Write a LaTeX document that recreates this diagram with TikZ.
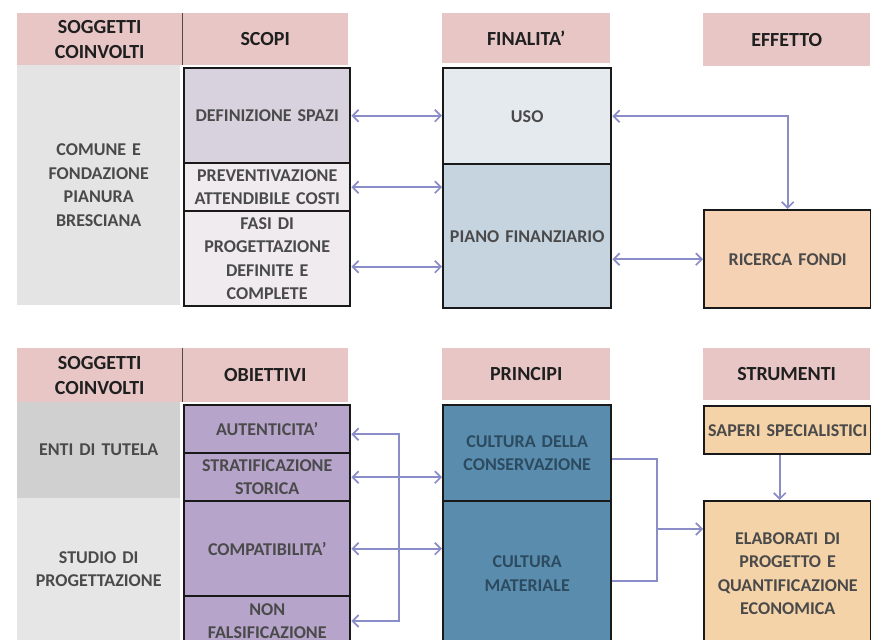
\documentclass[tikz,border=0pt]{standalone}
\usepackage{fontspec}
\setmainfont{Carlito}
\usetikzlibrary{arrows.meta,calc}
\definecolor{hdrc}{HTML}{E8C6C6}
\definecolor{txtc}{HTML}{4A4A4A}
\definecolor{arrc}{HTML}{8B8DC8}
\definecolor{grayA}{HTML}{E4E4E4}
\definecolor{grayB}{HTML}{D0D0D0}
\definecolor{grayC}{HTML}{E6E6E6}
\definecolor{defc}{HTML}{D8D2DF}
\definecolor{prevc}{HTML}{EFEBEF}
\definecolor{usoc}{HTML}{E5EAEE}
\definecolor{pianoc}{HTML}{C6D4E0}
\definecolor{peachA}{HTML}{F5D2B4}
\definecolor{peachB}{HTML}{F5D3A8}
\definecolor{lavc}{HTML}{B6A4CB}
\definecolor{tealc}{HTML}{5A8DAD}
\definecolor{tealtxt}{HTML}{2C4A60}
\begin{document}
\begin{tikzpicture}[x=1pt,y=-1pt,
  base/.style={anchor=north west, inner sep=0pt, align=center, font=\bfseries\fontsize{18}{23.5}\selectfont},
  hdr/.style={base, fill=hdrc, text=black!88, font=\bfseries\fontsize{20}{25}\selectfont},
  gry/.style={base, text=txtc},
  bx/.style={base, draw=black!90, line width=2.4pt, text=txtc},
  arr/.style={draw=arrc, line width=1.7pt, {Straight Barb[length=6pt,width=12pt]}-{Straight Barb[length=6pt,width=12pt]}},
  ln/.style={draw=arrc, line width=1.7pt},
  onearr/.style={draw=arrc, line width=1.7pt, -{Straight Barb[length=6pt,width=12pt]}},
  sep/.style={draw=black!70, line width=1pt}]
\useasboundingbox (0,0) rectangle (871,640);
\fill[white] (0,0) rectangle (871,640);
% ---------- top section ----------
\node[hdr, minimum width=165pt, minimum height=52pt, text width=160pt] (h1) at (17,13) {SOGGETTI\\COINVOLTI};
\node[hdr, minimum width=166pt, minimum height=52pt, text width=160pt] (h2) at (182,13) {SCOPI};
\node[hdr, minimum width=168pt, minimum height=50pt, text width=160pt] (h3) at (442,13) {FINALITA'};
\node[hdr, minimum width=167pt, minimum height=53pt, text width=160pt] (h4) at (703,13) {EFFETTO};
\draw[sep] (h1.north east) -- (h1.south east);
\node[gry, fill=grayA, minimum width=163pt, minimum height=240pt, text width=158pt] (g1) at (17,65) {COMUNE E\\FONDAZIONE\\PIANURA\\BRESCIANA};
\node[bx, fill=defc, minimum width=166pt, minimum height=95pt, text width=164pt] (def) at (183,67) {DEFINIZIONE SPAZI};
\node[bx, fill=prevc, minimum width=166pt, minimum height=48pt, text width=166pt] (prev) at (183,162) {PREVENTIVAZIONE\\ATTENDIBILE COSTI};
\node[bx, fill=prevc, minimum width=166pt, minimum height=95pt, text width=164pt] (fasi) at (183,210) {FASI DI\\PROGETTAZIONE\\DEFINITE E\\COMPLETE};
\node[bx, fill=usoc, minimum width=168pt, minimum height=96pt, text width=164pt] (uso) at (442,67) {USO};
\node[bx, fill=pianoc, minimum width=168pt, minimum height=144pt, text width=166pt] (piano) at (442,163) {PIANO FINANZIARIO};
\node[bx, fill=peachA, minimum width=167pt, minimum height=98pt, text width=164pt] (ric) at (703,209) {RICERCA FONDI};
\draw[arr] (def.east) -- (def.east -| uso.west);
\draw[arr] (prev.east) -- (prev.east -| piano.west);
\coordinate (fa) at ($(fasi.east)+(0,8)$);
\draw[arr] (fa) -- (fa -| piano.west);
\draw[arr] (uso.east) -| (ric.north);
\draw[arr] (piano.east |- ric.west) -- (ric.west);
% ---------- bottom section ----------
\node[hdr, minimum width=165pt, minimum height=54pt, text width=160pt] (h5) at (17,348) {SOGGETTI\\COINVOLTI};
\node[hdr, minimum width=166pt, minimum height=54pt, text width=160pt] (h6) at (182,348) {OBIETTIVI};
\node[hdr, minimum width=168pt, minimum height=52pt, text width=160pt] (h7) at (442,348) {PRINCIPI};
\node[hdr, minimum width=167pt, minimum height=52pt, text width=160pt] (h8) at (703,348) {STRUMENTI};
\draw[sep] (h5.north east) -- (h5.south east);
\node[gry, fill=grayB, minimum width=163pt, minimum height=96pt, text width=158pt] (g2) at (17,402) {ENTI DI TUTELA};
\node[gry, fill=grayC, minimum width=163pt, minimum height=142pt, text width=158pt] (g3) at (17,498) {STUDIO DI\\PROGETTAZIONE};
\node[bx, fill=lavc, minimum width=166pt, minimum height=48pt, text width=164pt] (aut) at (183,404) {AUTENTICITA'};
\node[bx, fill=lavc, minimum width=166pt, minimum height=48pt, text width=164pt] (strat) at (183,452) {STRATIFICAZIONE\\STORICA};
\node[bx, fill=lavc, minimum width=166pt, minimum height=95pt, text width=164pt] (comp) at (183,500) {COMPATIBILITA'};
\node[bx, fill=lavc, minimum width=166pt, minimum height=50pt, text width=164pt] (nonf) at (183,595) {NON\\FALSIFICAZIONE};
\node[bx, fill=tealc, text=tealtxt, minimum width=168pt, minimum height=96pt, text width=164pt] (cons) at (442,404) {CULTURA DELLA\\CONSERVAZIONE};
\node[bx, fill=tealc, text=tealtxt, minimum width=168pt, minimum height=145pt, text width=164pt] (cmat) at (442,500) {CULTURA\\MATERIALE};
\node[bx, fill=peachB, minimum width=167pt, minimum height=48pt, text width=167pt] (sap) at (703,405) {SAPERI SPECIALISTICI};
\node[bx, fill=peachB, minimum width=167pt, minimum height=145pt, text width=166pt] (elab) at (703,500) {ELABORATI DI\\PROGETTO E\\QUANTIFICAZIONE\\ECONOMICA};
\coordinate (brk) at (399,621);
\coordinate (au) at ($(aut.east)+(0,5)$);
\draw[arr] (au) -| (brk) -- (brk -| nonf.east);
\draw[arr] (strat.east) -- (strat.east -| cons.west);
\draw[arr] (comp.east) -- (comp.east -| cmat.west);
\coordinate (jn) at (657,529);
\coordinate (ct) at ($(cons.east)+(0,6)$);
\coordinate (cb) at ($(cmat.east)+(0,7)$);
\draw[ln] (ct) -| (jn) |- (cb);
\draw[onearr] (jn) -- (jn -| elab.west);
\coordinate (sp) at ($(sap.south)+(-8,0)$);
\draw[onearr] (sp) -- (sp |- elab.north);
\end{tikzpicture}
\end{document}
